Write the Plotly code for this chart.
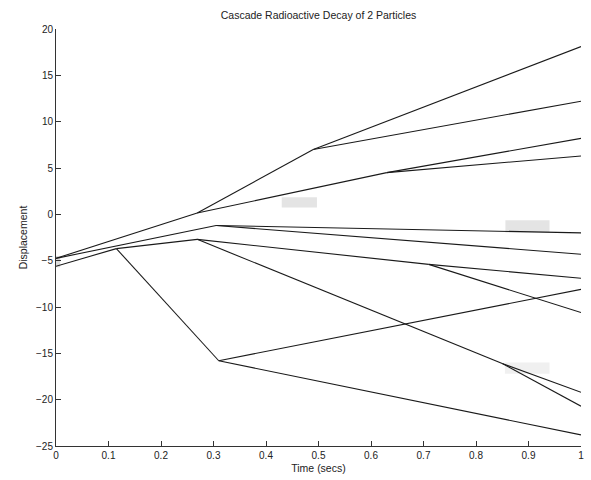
import plotly.graph_objects as go

# Branch points (time in secs, displacement)
node_names = ["R1", "R2", "A", "B", "G", "C", "D", "E", "F", "H", "I",
              "L1", "L2", "L3", "L4", "L5", "L6", "L7", "L8", "L9", "L10", "L11", "L12"]
node_time = [0.0, 0.0, 0.269, 0.49, 0.63, 0.115, 0.269, 0.31, 0.305, 0.71, 0.85,
             1.0, 1.0, 1.0, 1.0, 1.0, 1.0, 1.0, 1.0, 1.0, 1.0, 1.0, 1.0]
node_disp = [-4.75, -5.6, 0.15, 7.0, 4.5, -3.7, -2.7, -15.8, -1.2, -5.4, -16.1,
             18.1, 12.2, 8.2, 6.3, -2.0, -4.3, -6.9, -8.1, -10.6, -19.2, -20.7, -23.8]

# Parent -> child decay segments
edges = [("R1", "A"), ("A", "B"), ("B", "L1"), ("B", "L2"), ("A", "G"), ("G", "L3"), ("G", "L4"),
         ("R1", "F"), ("F", "L5"), ("F", "L6"),
         ("R2", "C"), ("C", "D"), ("D", "H"), ("H", "L7"), ("H", "L9"),
         ("D", "I"), ("I", "L10"), ("I", "L11"), ("C", "E"), ("E", "L8"), ("E", "L12")]

x_ticks = [0, 0.1, 0.2, 0.3, 0.4, 0.5, 0.6, 0.7, 0.8, 0.9, 1]
x_tick_text = ["0", "0.1", "0.2", "0.3", "0.4", "0.5", "0.6", "0.7", "0.8", "0.9", "1"]
y_ticks = [-25, -20, -15, -10, -5, 0, 5, 10, 15, 20]

pos = {n: (t, d) for n, t, d in zip(node_names, node_time, node_disp)}
xs, ys = [], []
for a, b in edges:
    xs += [pos[a][0], pos[b][0], None]
    ys += [pos[a][1], pos[b][1], None]

fig = go.Figure()
fig.add_trace(go.Scatter(x=xs, y=ys, mode="lines",
                         line=dict(color="#1a1a1a", width=1.1),
                         hoverinfo="skip", showlegend=False))

# faint grey label boxes seen in the picture
for x0, x1, y0, y1 in [(0.43, 0.497, 0.75, 1.85), (0.856, 0.94, -0.65, -1.95),
                       (0.855, 0.94, -16.0, -17.2)]:
    fig.add_shape(type="rect", x0=x0, x1=x1, y0=y0, y1=y1, xref="x", yref="y",
                  fillcolor="#e4e4e4" if y0 > -10 else "#f0f0f0", line=dict(width=0), layer="below")
fig.add_shape(type="rect", x0=-0.055, x1=0.008, y0=-4.5, y1=-5.7, xref="x", yref="y",
              fillcolor="#dddddd", line=dict(width=0), layer="below")

font_family = "Liberation Sans, Arial, sans-serif"
fig.update_layout(
    width=591, height=480,
    margin=dict(l=56, r=7, t=29, b=34),
    paper_bgcolor="white", plot_bgcolor="white",
    title=dict(text="Cascade Radioactive Decay of 2 Particles", x=0.5, xref="paper",
               y=1 - 15 / 480, yanchor="middle",
               font=dict(family=font_family, size=10.5, color="#222")),
    font=dict(family=font_family, size=10, color="#222"),
    xaxis=dict(range=[0, 1], tickvals=x_ticks, ticktext=x_tick_text,
               ticks="inside", ticklen=5, tickcolor="#333", showline=True, linecolor="#333",
               linewidth=1, showgrid=False, zeroline=False, mirror=False,
               title=dict(text="Time (secs)", standoff=4, font=dict(size=10.5))),
    yaxis=dict(range=[-25, 20], tickvals=y_ticks,
               ticks="inside", ticklen=5, tickcolor="#333", showline=True, linecolor="#333",
               linewidth=1, showgrid=False, zeroline=False, mirror=False,
               title=dict(text="Displacement", standoff=6, font=dict(size=10.5))),
)

fig.write_html("out.html", config={"displayModeBar": False},
               post_script="document.body.style.margin='0';document.body.style.overflow='hidden';")
